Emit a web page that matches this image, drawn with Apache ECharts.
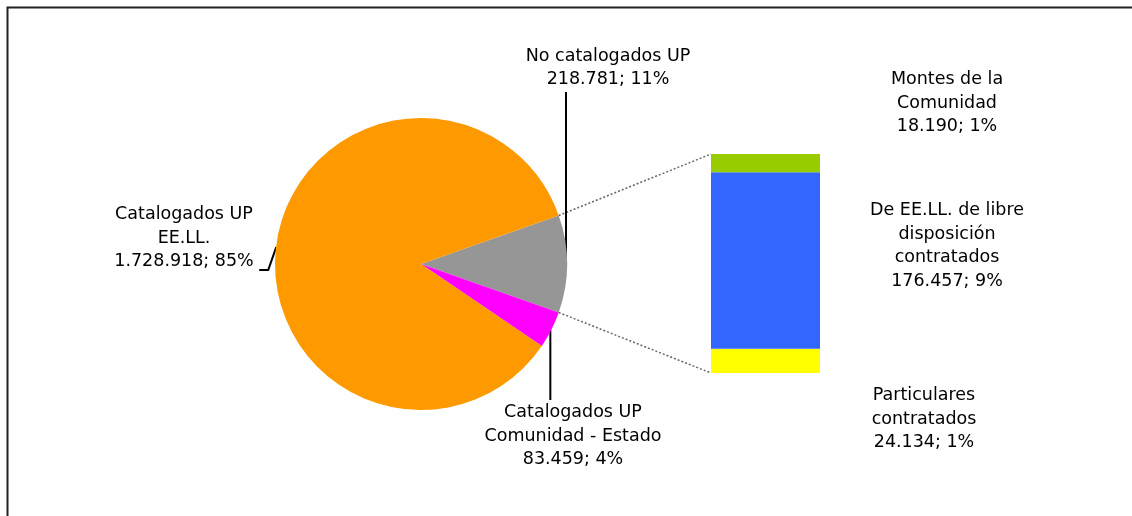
<!DOCTYPE html>
<html>
<head>
<meta charset="utf-8">
<script src="https://cdn.jsdelivr.net/npm/echarts@6/dist/echarts.min.js"></script>
<style>
html,body{margin:0;padding:0;background:#fff;}
#c{width:1132px;height:516px;}
</style>
</head>
<body>
<div id="c"></div>
<script>
// ---- data ----
var pieNames = ['No catalogados UP', 'Catalogados UP\nComunidad - Estado', 'Catalogados UP\nEE.LL.'];
var pieValues = [218781, 83459, 1728918];
var pieColors = ['#969696', '#FF00FF', '#FF9900'];

var barNames = ['Particulares\ncontratados', 'De EE.LL. de libre\ndisposición\ncontratados', 'Montes de la\nComunidad'];
var barValues = [24134, 176457, 18190];
var barColors = ['#FFFF00', '#3366FF', '#99CC00'];

var total = pieValues.reduce(function (a, b) { return a + b; }, 0);
var subTotal = barValues.reduce(function (a, b) { return a + b; }, 0);

function fmt(n) { return String(n).replace(/\B(?=(\d{3})+(?!\d))/g, '.'); }
function pct(v) { return Math.round(v / total * 100) + '%'; }

var FONT = 'DejaVu Sans';
var PIE_C = [421, 264], PIE_R = 146;
var startAngle = (pieValues[0] / total) * 360 / 2;

// label placement (centers)
var pieLabelPos = [[608, 68], [573, 436], [184, 238]];
var barLabelPos = [[924, 419], [947, 246], [947, 103]];

var chart = echarts.init(document.getElementById('c'), null, { renderer: 'canvas' });

var textStyle = { fontFamily: FONT, fontSize: 17.5, color: '#000', lineHeight: 23.5, align: 'center', verticalAlign: 'middle' };

var series = [{
  type: 'pie',
  center: PIE_C,
  radius: PIE_R,
  startAngle: startAngle,
  clockwise: true,
  animation: false,
  silent: true,
  data: pieNames.map(function (n, i) {
    return { name: n, value: pieValues[i], itemStyle: { color: pieColors[i] } };
  }),
  label: Object.assign({
    show: true,
    position: 'outside',
    formatter: function (p) { return p.name + '\n' + fmt(p.value) + '; ' + pct(p.value); }
  }, textStyle),
  labelLine: { show: true, length: 10, length2: 10, smooth: false, lineStyle: { color: '#000', width: 2 } },
  labelLayout: function (p) {
    var i = p.dataIndex;
    var pos = pieLabelPos[i];
    var e = p.labelLinePoints ? p.labelLinePoints[0] : PIE_C;
    var pts;
    if (i === 0) pts = [[e[0] - 1, e[1]], [e[0] - 1, pos[1] + 24], [e[0] - 1, pos[1] + 24]];
    else if (i === 1) pts = [[e[0] - 1, e[1]], [e[0] - 1, pos[1] - 36], [e[0] - 1, pos[1] - 36]];
    else pts = [[e[0], e[1] + 2], [e[0] - 8, pos[1] + 32], [e[0] - 17, pos[1] + 32]];
    return { x: pos[0], y: pos[1], align: 'center', verticalAlign: 'middle', labelLinePoints: pts };
  }
}];

barNames.forEach(function (n, i) {
  series.push({
    type: 'bar',
    name: n,
    stack: 'sub',
    barWidth: '100%',
    animation: false,
    silent: true,
    data: [barValues[i]],
    itemStyle: { color: barColors[i] },
    label: Object.assign({
      show: true,
      position: 'right',
      formatter: function (p) { return n + '\n' + fmt(p.value) + '; ' + pct(p.value); }
    }, textStyle),
    labelLayout: function () {
      return { x: barLabelPos[i][0], y: barLabelPos[i][1], align: 'center', verticalAlign: 'middle' };
    }
  });
});

chart.setOption({
  backgroundColor: '#fff',
  animation: false,
  grid: { left: 711, top: 154, width: 109, height: 219 },
  xAxis: { type: 'category', data: [''], show: false },
  yAxis: { type: 'value', min: 0, max: subTotal, show: false },
  series: series
});

// connector lines from the grey slice edges to the bar corners
var a1 = startAngle * Math.PI / 180;
var a2 = (startAngle - pieValues[0] / total * 360) * Math.PI / 180;
var p1 = [PIE_C[0] + PIE_R * Math.cos(a1), PIE_C[1] - PIE_R * Math.sin(a1)];
var p2 = [PIE_C[0] + PIE_R * Math.cos(a2), PIE_C[1] - PIE_R * Math.sin(a2)];
var topPx = chart.convertToPixel({ gridIndex: 0 }, [0, subTotal]);
var botPx = chart.convertToPixel({ gridIndex: 0 }, [0, 0]);
var barLeft = 711;
var dash = { stroke: '#666', lineWidth: 1.5, lineDash: [2, 2] };

chart.setOption({
  graphic: [
    { type: 'rect', shape: { x: 7.5, y: 7.5, width: 1300, height: 700 }, style: { fill: 'none', stroke: '#222', lineWidth: 2 }, silent: true },
    { type: 'line', shape: { x1: p1[0], y1: p1[1], x2: barLeft, y2: topPx[1] }, style: dash, silent: true },
    { type: 'line', shape: { x1: p2[0], y1: p2[1], x2: barLeft, y2: botPx[1] }, style: dash, silent: true }
  ]
});
</script>
</body>
</html>
